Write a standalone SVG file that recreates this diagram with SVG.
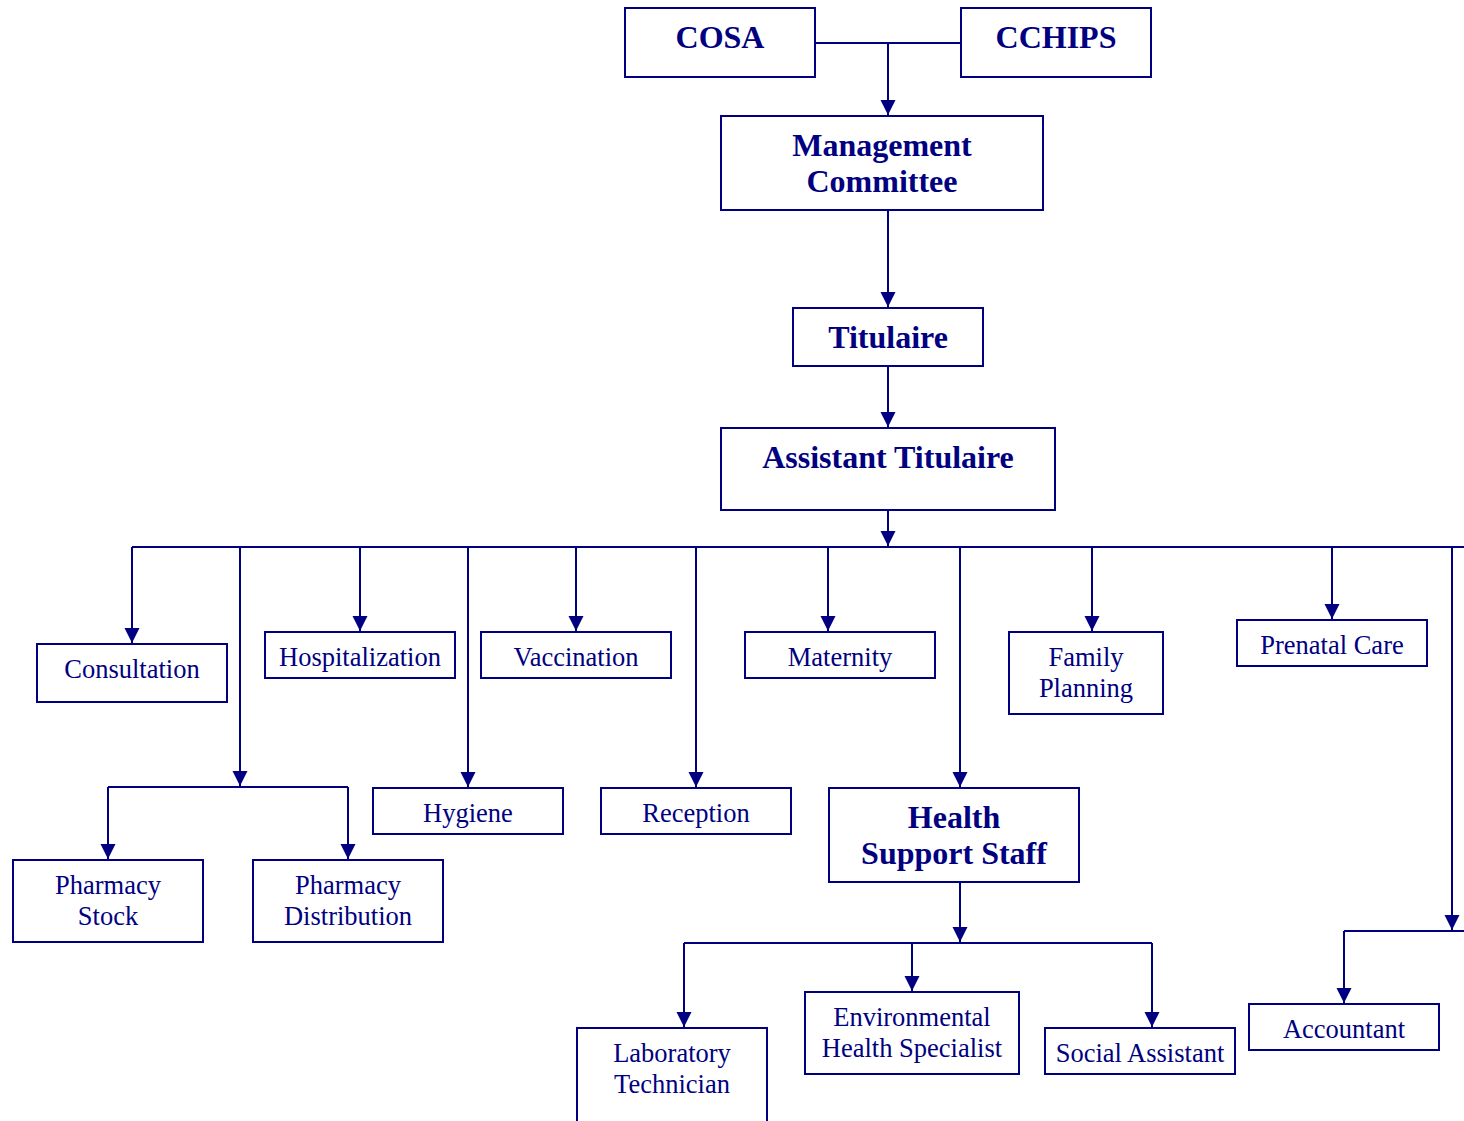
<svg xmlns="http://www.w3.org/2000/svg" width="1464" height="1121" viewBox="0 0 1464 1121">
<style>
.box{fill:#fff;stroke:#000080;stroke-width:2}
.ln{fill:none;stroke:#000080;stroke-width:2}
.b{font-weight:bold;font-size:32px;fill:#000080;text-anchor:middle}
.t{font-size:26.5px;fill:#000080;text-anchor:middle}
</style>
<defs>
<marker id="ah" markerUnits="userSpaceOnUse" markerWidth="16" markerHeight="16" refX="15" refY="8" orient="auto" viewBox="0 0 16 16">
<path d="M0,0.5 L15,8 L0,15.5 z" fill="#000080"/>
</marker>
</defs>
<rect width="1464" height="1121" fill="#fff"/>
<g id="connectors">
<path class="ln" d="M815,43 H961"/>
<path class="ln" d="M888,43 V115" marker-end="url(#ah)"/>
<path class="ln" d="M888,210 V307" marker-end="url(#ah)"/>
<path class="ln" d="M888,366 V427" marker-end="url(#ah)"/>
<path class="ln" d="M888,510 V546" marker-end="url(#ah)"/>
<path class="ln" d="M132,547 H1466"/>
<path class="ln" d="M132,547 V643" marker-end="url(#ah)"/>
<path class="ln" d="M240,547 V786" marker-end="url(#ah)"/>
<path class="ln" d="M108,787 H348"/>
<path class="ln" d="M108,787 V859" marker-end="url(#ah)"/>
<path class="ln" d="M348,787 V859" marker-end="url(#ah)"/>
<path class="ln" d="M360,547 V631" marker-end="url(#ah)"/>
<path class="ln" d="M468,547 V787" marker-end="url(#ah)"/>
<path class="ln" d="M576,547 V631" marker-end="url(#ah)"/>
<path class="ln" d="M696,547 V787" marker-end="url(#ah)"/>
<path class="ln" d="M828,547 V631" marker-end="url(#ah)"/>
<path class="ln" d="M960,547 V787" marker-end="url(#ah)"/>
<path class="ln" d="M1092,547 V631" marker-end="url(#ah)"/>
<path class="ln" d="M1332,547 V619" marker-end="url(#ah)"/>
<path class="ln" d="M1452,547 V930" marker-end="url(#ah)"/>
<path class="ln" d="M1344,931 H1466"/>
<path class="ln" d="M1344,931 V1003" marker-end="url(#ah)"/>
<path class="ln" d="M960,882 V942" marker-end="url(#ah)"/>
<path class="ln" d="M684,943 H1152"/>
<path class="ln" d="M684,943 V1027" marker-end="url(#ah)"/>
<path class="ln" d="M912,943 V991" marker-end="url(#ah)"/>
<path class="ln" d="M1152,943 V1027" marker-end="url(#ah)"/>
</g>
<g font-family="'Liberation Serif', 'Times New Roman', 'DejaVu Serif', serif">
<g id="cosa"><rect class="box" x="625" y="8" width="190" height="69"/><text class="b" x="720" y="48">COSA</text></g>
<g id="cchips"><rect class="box" x="961" y="8" width="190" height="69"/><text class="b" x="1056" y="48">CCHIPS</text></g>
<g id="management"><rect class="box" x="721" y="116" width="322" height="94"/><text class="b" x="882" y="156">Management</text><text class="b" x="882" y="192">Committee</text></g>
<g id="titulaire"><rect class="box" x="793" y="308" width="190" height="58"/><text class="b" x="888" y="348">Titulaire</text></g>
<g id="assistant"><rect class="box" x="721" y="428" width="334" height="82"/><text class="b" x="888" y="468">Assistant Titulaire</text></g>
<g id="consultation"><rect class="box" x="37" y="644" width="190" height="58"/><text class="t" x="132" y="678">Consultation</text></g>
<g id="hospitalization"><rect class="box" x="265" y="632" width="190" height="46"/><text class="t" x="360" y="666">Hospitalization</text></g>
<g id="vaccination"><rect class="box" x="481" y="632" width="190" height="46"/><text class="t" x="576" y="666">Vaccination</text></g>
<g id="maternity"><rect class="box" x="745" y="632" width="190" height="46"/><text class="t" x="840" y="666">Maternity</text></g>
<g id="family"><rect class="box" x="1009" y="632" width="154" height="82"/><text class="t" x="1086" y="666">Family</text><text class="t" x="1086" y="697">Planning</text></g>
<g id="prenatal"><rect class="box" x="1237" y="620" width="190" height="46"/><text class="t" x="1332" y="654">Prenatal Care</text></g>
<g id="pharmacy-stock"><rect class="box" x="13" y="860" width="190" height="82"/><text class="t" x="108" y="894">Pharmacy</text><text class="t" x="108" y="925">Stock</text></g>
<g id="pharmacy-dist"><rect class="box" x="253" y="860" width="190" height="82"/><text class="t" x="348" y="894">Pharmacy</text><text class="t" x="348" y="925">Distribution</text></g>
<g id="hygiene"><rect class="box" x="373" y="788" width="190" height="46"/><text class="t" x="468" y="822">Hygiene</text></g>
<g id="reception"><rect class="box" x="601" y="788" width="190" height="46"/><text class="t" x="696" y="822">Reception</text></g>
<g id="health-support"><rect class="box" x="829" y="788" width="250" height="94"/><text class="b" x="954" y="828">Health</text><text class="b" x="954" y="864">Support Staff</text></g>
<g id="lab"><rect class="box" x="577" y="1028" width="190" height="100"/><text class="t" x="672" y="1062">Laboratory</text><text class="t" x="672" y="1093">Technician</text></g>
<g id="env"><rect class="box" x="805" y="992" width="214" height="82"/><text class="t" x="912" y="1026">Environmental</text><text class="t" x="912" y="1057">Health Specialist</text></g>
<g id="social"><rect class="box" x="1045" y="1028" width="190" height="46"/><text class="t" x="1140" y="1062">Social Assistant</text></g>
<g id="accountant"><rect class="box" x="1249" y="1004" width="190" height="46"/><text class="t" x="1344" y="1038">Accountant</text></g>
</g>
</svg>
